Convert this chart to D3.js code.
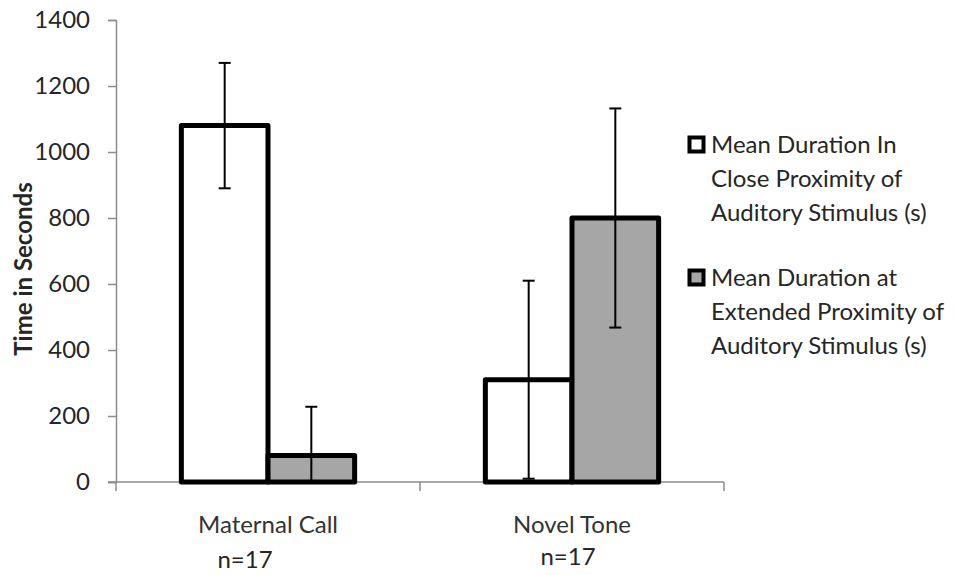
<!DOCTYPE html>
<html>
<head>
<meta charset="utf-8">
<script src="https://cdn.jsdelivr.net/npm/d3@7"></script>
<style>
  body { margin: 0; background: #fff; }
  text { font-family: Lato, "Open Sans", sans-serif; fill: #262626; }
</style>
</head>
<body>
<div id="chart"></div>
<script>
// data
const categories = ["Maternal Call", "Novel Tone"];
const sampleSizes = ["n=17", "n=17"];
const seriesNames = [
    ["Mean Duration In", "Close Proximity of", "Auditory Stimulus (s)"],
    ["Mean Duration at", "Extended Proximity of", "Auditory Stimulus (s)"]
];
const closeMeans = [1080, 310];
const closeErrors = [190, 300];
const extendedMeans = [80, 800];
const extendedErrors = [148, 332];
const yTicks = [0, 200, 400, 600, 800, 1000, 1200, 1400];

const seriesColors = ["#ffffff", "#a6a6a6"];

const width = 956, height = 575,
    margin = ({top: 20, right: 232, bottom: 93, left: 116});

let svg = d3.select('#chart')
    .append('svg')
    .attr('width', width)
    .attr('height', height);

// one row per category, series values kept side by side
const rows = categories.map((c, i) => ({
    category: c,
    n: sampleSizes[i],
    values: [
        {series: 0, value: closeMeans[i], err: closeErrors[i]},
        {series: 1, value: extendedMeans[i], err: extendedErrors[i]}
    ]
}));

let x = d3.scaleBand()
    .domain(categories)
    .range([margin.left, width - margin.right])
    .paddingInner(0.43)
    .paddingOuter(0.215);

let x1 = d3.scaleBand()
    .domain([0, 1])
    .range([0, x.bandwidth()]);

let y = d3.scaleLinear()
    .domain([0, 1400])
    .range([height - margin.bottom, margin.top]);

// y axis
const yAxis = g => g
    .attr('transform', `translate(${margin.left}, 0)`)
    .call(d3.axisLeft(y).tickValues(yTicks).tickFormat(d3.format('d')).tickSize(8).tickPadding(18))
    .call(g => g.select('.domain').attr('stroke', '#8c8c8c').attr('stroke-width', 1.5))
    .call(g => g.selectAll('.tick line').attr('stroke', '#8c8c8c').attr('stroke-width', 1.5))
    .call(g => g.selectAll('.tick text')
        .attr('font-size', 24)
        .attr('font-family', 'Lato, sans-serif')
        .attr('fill', '#262626'));

svg.append('g').call(yAxis);

// x axis: line at zero with ticks between categories
const xBase = y(0);
const step = x.step();
const xTicks = [margin.left, margin.left + step, margin.left + 2 * step];
svg.append('line')
    .attr('x1', margin.left - 8)
    .attr('x2', width - margin.right)
    .attr('y1', xBase).attr('y2', xBase)
    .attr('stroke', '#8c8c8c').attr('stroke-width', 1.5);
svg.selectAll('.xtick')
    .data(xTicks)
    .join('line')
    .attr('class', 'xtick')
    .attr('x1', d => d).attr('x2', d => d)
    .attr('y1', xBase).attr('y2', xBase + 9)
    .attr('stroke', '#8c8c8c').attr('stroke-width', 1.5);

// category labels
svg.selectAll('.cat')
    .data(rows)
    .join('text')
    .attr('class', 'cat')
    .attr('x', d => x(d.category) + x.bandwidth() / 2)
    .attr('y', xBase + 51)
    .attr('text-anchor', 'middle')
    .attr('font-size', 24)
    .style('fill', '#333')
    .text(d => d.category);

// n labels sit a little left of centre
const nOffsets = [-23, -4];
const nYOffsets = [86, 83];
svg.selectAll('.nlab')
    .data(rows)
    .join('text')
    .attr('class', 'nlab')
    .attr('x', (d, i) => x(d.category) + x.bandwidth() / 2 + nOffsets[i])
    .attr('y', (d, i) => xBase + nYOffsets[i])
    .attr('text-anchor', 'middle')
    .attr('font-size', 24)
    .text(d => d.n);

// bars
let group = svg.selectAll('.grp')
    .data(rows)
    .join('g')
    .attr('class', 'grp')
    .attr('transform', d => `translate(${x(d.category)}, 0)`);

group.selectAll('rect')
    .data(d => d.values)
    .join('rect')
    .attr('x', d => x1(d.series))
    .attr('width', x1.bandwidth())
    .attr('y', d => y(d.value))
    .attr('height', d => y(0) - y(d.value))
    .attr('fill', d => seriesColors[d.series])
    .attr('stroke', '#000')
    .attr('stroke-width', 5)
    .attr('stroke-linejoin', 'round');

// error bars (lower end clipped at the axis)
let err = group.selectAll('.err')
    .data(d => d.values)
    .join('g')
    .attr('class', 'err')
    .attr('transform', d => `translate(${x1(d.series) + x1.bandwidth() / 2}, 0)`);

err.append('line')
    .attr('y1', d => y(d.value + d.err))
    .attr('y2', d => y(Math.max(0, d.value - d.err)))
    .attr('stroke', '#000').attr('stroke-width', 2);
err.append('line')
    .attr('x1', -6).attr('x2', 6)
    .attr('y1', d => y(d.value + d.err)).attr('y2', d => y(d.value + d.err))
    .attr('stroke', '#000').attr('stroke-width', 2);
err.filter(d => d.value - d.err > 0).append('line')
    .attr('x1', -6).attr('x2', 6)
    .attr('y1', d => y(d.value - d.err)).attr('y2', d => y(d.value - d.err))
    .attr('stroke', '#000').attr('stroke-width', 2);

// y title
svg.append('text')
    .attr('transform', `translate(32, 269) rotate(-90)`)
    .attr('text-anchor', 'middle')
    .attr('font-size', 24)
    .attr('font-weight', 'bold')
    .text('Time in Seconds');

// legend
const legendTop = [136, 269];
let legend = svg.selectAll('.leg')
    .data(seriesNames)
    .join('g')
    .attr('class', 'leg')
    .attr('transform', (d, i) => `translate(688, ${legendTop[i]})`);

legend.append('rect')
    .attr('x', 1.5).attr('y', 1.5)
    .attr('width', 14).attr('height', 14)
    .attr('fill', (d, i) => seriesColors[i])
    .attr('stroke', '#000')
    .attr('stroke-width', 4);

legend.selectAll('text')
    .data(d => d)
    .join('text')
    .attr('x', 23)
    .attr('y', (d, j) => 17 + j * 34)
    .attr('font-size', 24)
    .text(d => d);
</script>
</body>
</html>
